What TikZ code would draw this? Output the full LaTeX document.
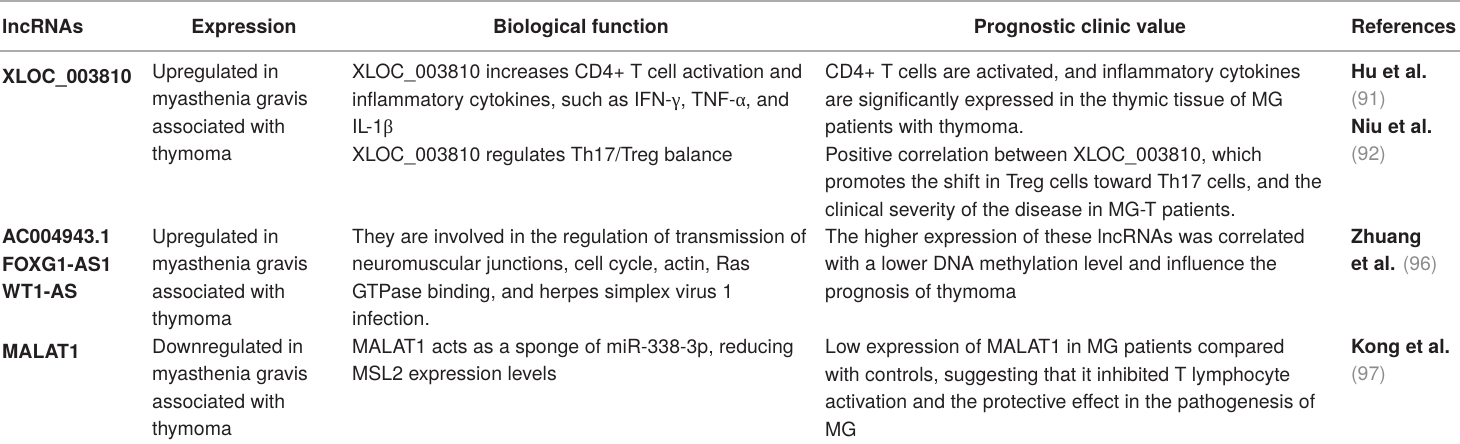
\documentclass[tikz,border=0pt]{standalone}
\usepackage{fontspec}
\setmainfont{TeX Gyre Heros}
\newfontfamily\greekfont{Liberation Serif}
\usetikzlibrary{positioning}
\definecolor{tink}{RGB}{35,31,32}
\definecolor{trule}{RGB}{172,172,172}
\definecolor{tref}{RGB}{140,140,140}
\newcommand{\refnum}[1]{{\mdseries\color{tref}(#1)}}
\newcommand{\gk}[1]{{\greekfont #1}}
\tikzset{
  cell/.style={anchor=north west, inner sep=0pt, align=left, text=tink,
    font=\fontsize{19.5}{27.5}\selectfont, execute at begin node=\strut},
  namecell/.style={cell, font=\fontsize{19.5}{27.5}\selectfont\bfseries},
  headcell/.style={anchor=north, inner sep=0pt, text=tink,
    font=\fontsize{19.5}{27.5}\selectfont\bfseries, execute at begin node=\strut},
  tablerule/.style={draw=trule, line width=2pt}
}
\begin{document}
\begin{tikzpicture}[x=1pt, y=-1pt]
        \useasboundingbox (0,0) rectangle (1460,444);

        % rules
        \draw[tablerule] (0,1.5) -- (1460,1.5);
        \draw[tablerule] (0,51) -- (1460,51);

        % header (north of a cell = baseline - 19.25)
        \node[headcell, anchor=north west] (hname) at (2,14) {lncRNAs};
        \node[headcell] (hexpr) at (244,14) {Expression};
        \node[headcell] (hfunc) at (581,14) {Biological function};
        \node[headcell] (hprog) at (1080,14) {Prognostic clinic value};
        \node[headcell, anchor=north west] (href) at (1351,14) {References};

        % first row
        \node[namecell] (name1) at (2,64) {XLOC\_003810};
        \node[cell] (expr1) at (152,64) {Upregulated in\\myasthenia gravis\\associated with\\thymoma};
        \node[cell] (func1) at (352,64) {XLOC\_003810 increases CD4+ T cell activation and\\inflammatory cytokines, such as IFN-\gk{γ}, TNF-\gk{α}, and\\IL-1\gk{β}\\XLOC\_003810 regulates Th17/Treg balance};
        \node[cell] (prog1) at (825,64) {CD4+ T cells are activated, and inflammatory cytokines\\are significantly expressed in the thymic tissue of MG\\patients with thymoma.\\Positive correlation between XLOC\_003810, which\\promotes the shift in Treg cells toward Th17 cells, and the\\clinical severity of the disease in MG-T patients.};
        \node[namecell] (ref1) at (1351,64) {Hu et al.\\\refnum{91}\\Niu et al.\\\refnum{92}};

        % second row
        \node[namecell] (name2) at (2,229) {AC004943.1\\FOXG1-AS1\\WT1-AS};
        \node[cell] (expr2) at (152,229) {Upregulated in\\myasthenia gravis\\associated with\\thymoma};
        \node[cell] (func2) at (352,229) {They are involved in the regulation of transmission of\\neuromuscular junctions, cell cycle, actin, Ras\\GTPase binding, and herpes simplex virus 1\\infection.};
        \node[cell] (prog2) at (825,229) {The higher expression of these lncRNAs was correlated\\with a lower DNA methylation level and influence the\\prognosis of thymoma};
        \node[namecell] (ref2) at (1351,229) {Zhuang\\et al. \refnum{96}};

        % third row
        \node[namecell] (name3) at (2,339) {MALAT1};
        \node[cell] (expr3) at (152,339) {Downregulated in\\myasthenia gravis\\associated with\\thymoma};
        \node[cell] (func3) at (352,339) {MALAT1 acts as a sponge of miR-338-3p, reducing\\MSL2 expression levels};
        \node[cell] (prog3) at (825,339) {Low expression of MALAT1 in MG patients compared\\with controls, suggesting that it inhibited T lymphocyte\\activation and the protective effect in the pathogenesis of\\MG};
        \node[namecell] (ref3) at (1351,339) {Kong et al.\\\refnum{97}};
\end{tikzpicture}
\end{document}
